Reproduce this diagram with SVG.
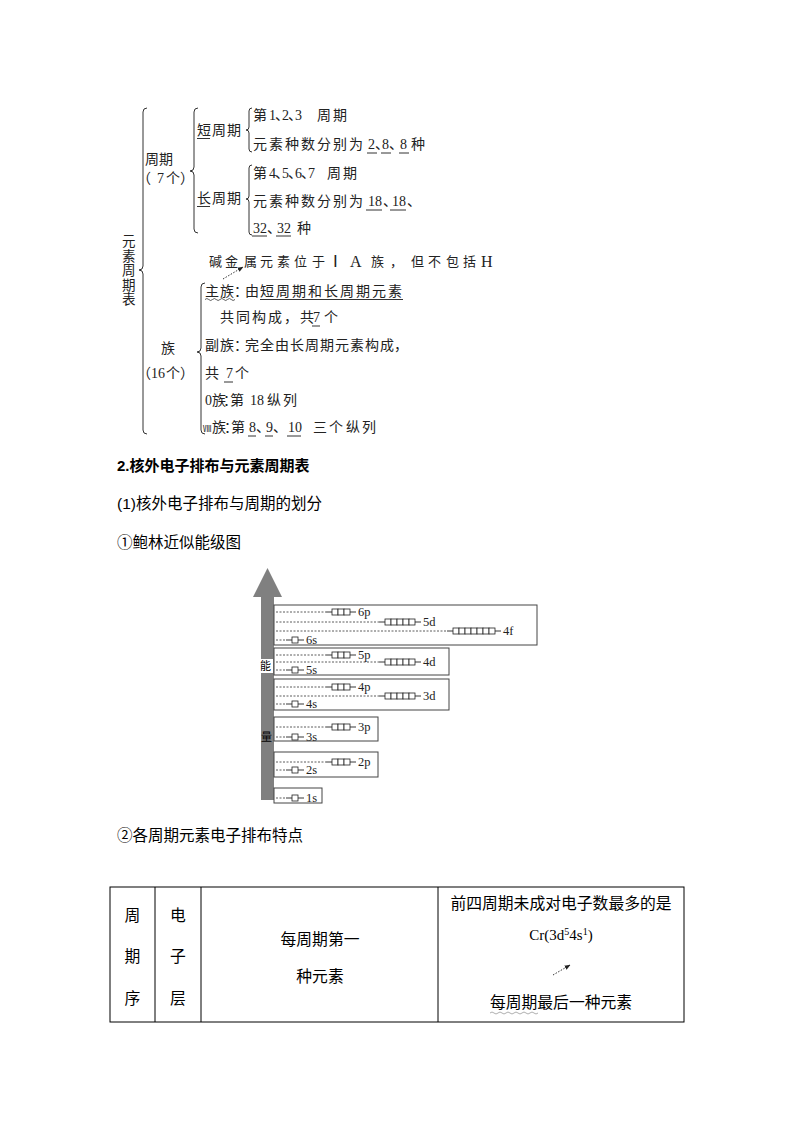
<svg xmlns="http://www.w3.org/2000/svg" width="794" height="1123" viewBox="0 0 794 1123">
<style>
.t{font-family:'Liberation Serif','Noto Sans CJK SC',serif;font-size:14px;fill:#222}
.v{font-family:'Liberation Serif','Noto Sans CJK SC',serif;font-size:13.5px;fill:#222}
.hw{font-family:'Noto Sans CJK SC',sans-serif;font-size:13px;fill:#222}
.hwl{font-family:'Liberation Serif',serif;font-size:16px;fill:#222}
.h{font-family:'Liberation Sans','Noto Sans CJK SC',sans-serif;font-size:15.5px;fill:#000}
.hb{font-family:'Liberation Sans','Noto Sans CJK SC',sans-serif;font-size:15px;fill:#000;font-weight:bold}
.tb{font-family:'Liberation Sans','Noto Sans CJK SC',sans-serif;font-size:15.8px;fill:#000}
.cr{font-family:'Liberation Serif',serif;font-size:15px;fill:#000}
.lbl{font-family:'Liberation Serif',serif;font-size:12.5px;fill:#222}
.ax{font-family:'Noto Sans CJK SC',sans-serif;font-size:11px;fill:#000}
.br{fill:none;stroke:#333;stroke-width:1}
.ul{stroke:#333;stroke-width:1}
.wv{fill:none;stroke:#333;stroke-width:0.8}
.dot{stroke:#333;stroke-width:0.8;stroke-dasharray:2 1.5}
.sl{stroke:#222;stroke-width:0.9}
.cell{fill:#fff;stroke:#222;stroke-width:0.8}
.box{fill:#fff;stroke:#444;stroke-width:1}
.tbl{fill:none;stroke:#000;stroke-width:1}
.da{fill:none;stroke:#333;stroke-width:1;stroke-dasharray:1.5 1.5}
</style>
<defs>
<marker id="ah" viewBox="0 0 10 10" refX="9" refY="5" markerWidth="6" markerHeight="6" orient="auto">
<path d="M0,1 L10,5 L0,9 z" fill="#222"/>
</marker>
</defs>

<!-- Part 1: periodic table outline -->
<g id="root-label">
<text class="v" x="122" y="246">元</text>
<text class="v" x="122" y="260.5">素</text>
<text class="v" x="122" y="275">周</text>
<text class="v" x="122" y="289.5">期</text>
<text class="v" x="122" y="304">表</text>
<path class="br" d="M147,108 Q143,108 143,112 L143,266 Q143,270 139,270 Q143,270 143,274 L143,430 Q143,434 147,434"/>
</g>

<g id="period">
<text class="t" x="145" y="164">周期</text>
<text class="t" x="137 157 163 166 180" y="183">（7 个）</text>
<path class="br" d="M198,108 Q194,108 194,112 L194,167 Q194,171 190,171 Q194,171 194,175 L194,229 Q194,233 198,233"/>
</g>

<g id="short-period">
<text class="t" x="197 212 227" y="135">短周期</text>
<line class="ul" x1="197" y1="138.5" x2="210" y2="138.5"/>
<path class="br" d="M252,108 Q249,108 249,111 L249,127 Q249,130 246,130 Q249,130 249,133 L249,149 Q249,152 252,152"/>
<text class="t" x="253 269 275 282 288 295 317 333" y="120">第1、2、3周期</text>
<text class="t" x="253 269 285 301 317 333 349 368 375 382 389 400 411" y="149">元素种数分别为2、8、8种</text>
<line class="ul" x1="367" y1="153" x2="377" y2="153"/>
<line class="ul" x1="381" y1="153" x2="391" y2="153"/>
<line class="ul" x1="399" y1="153" x2="409" y2="153"/>
</g>

<g id="long-period">
<text class="t" x="197 212 227" y="203">长周期</text>
<line class="ul" x1="197" y1="206.5" x2="210" y2="206.5"/>
<path class="br" d="M252,165 Q249,165 249,168 L249,196 Q249,199 246,199 Q249,199 249,202 L249,232 Q249,235 252,235"/>
<text class="t" x="253 269 275 282 288 295 301 308 327 343" y="178">第4、5、6、7周期</text>
<text class="t" x="253 269 285 301 317 333 349 368 375 383 392 399 407" y="206">元素种数分别为18、18、</text>
<line class="ul" x1="366" y1="210" x2="382" y2="210"/>
<line class="ul" x1="390" y1="210" x2="406" y2="210"/>
<text class="t" x="253 260 267 277 284 297" y="233">32、32种</text>
<line class="ul" x1="252" y1="236" x2="267" y2="236"/>
<line class="ul" x1="276" y1="236" x2="291" y2="236"/>
</g>

<g id="note">
<text class="hw" y="266"><tspan x="209 225 244 260 277 294 312">碱金属元素位于</tspan><tspan class="hwl" x="333" y="267">Ⅰ</tspan><tspan class="hwl" x="350" y="267">A</tspan><tspan x="371 390 411 428 446 463" y="266">族，但不包括</tspan><tspan class="hwl" x="481" y="267">H</tspan></text>
</g>

<g id="group">
<text class="t" x="161" y="353">族</text>
<text class="t" x="137 151 158 163 166 180" y="378">（16 个）</text>
<path class="br" d="M205,283 Q201,283 201,287 L201,348 Q201,352 197,352 Q201,352 201,356 L201,430 Q201,434 205,434"/>
</g>

<g id="main-group">
<text class="t" x="205 220 234 245 260 276 292 308 324 340 356 372 388" y="296">主族：由短周期和长周期元素</text>
<path class="wv" d="M205,299.5 q1.875,-2 3.75,0 t3.75,0 t3.75,0 t3.75,0 t3.75,0 t3.75,0 t3.75,0 t3.75,0"/>
<line class="ul" x1="260" y1="299.5" x2="403" y2="299.5"/>
<text class="t" x="220 236 252 268 284 300 313 324" y="322">共同构成，共7个</text>
<line class="ul" x1="312" y1="326" x2="320" y2="326"/>
</g>

<g id="sub-group">
<text class="t" x="205 220 234 245 260 275 290 305 320 335 350 365 380 394" y="350">副族：完全由长周期元素构成，</text>
<text class="t" x="205 226 235" y="378">共7个</text>
<line class="ul" x1="224" y1="382" x2="233" y2="382"/>
</g>

<g id="zero-group">
<text class="t" x="205 212 223 230 250 257 267 283" y="405">0族：第18纵列</text>
</g>

<g id="group-8">
<text class="t" y="432"><tspan x="203" font-size="8.5">Ⅷ</tspan><tspan x="212 224 231 249 256 266 273 288 295 313 329 346 362">族：第8、9、10三个纵列</tspan></text>
<line class="ul" x1="248" y1="436" x2="256" y2="436"/>
<line class="ul" x1="265" y1="436" x2="273" y2="436"/>
<line class="ul" x1="287" y1="436" x2="301" y2="436"/>
</g>

<g id="connectors">
<line class="da" x1="223" y1="279" x2="243" y2="267" marker-end="url(#ah)"/>
<line class="da" x1="553" y1="975" x2="570" y2="965" marker-end="url(#ah)"/>
</g>

<!-- Part 2 headings -->
<g id="headings">
<text class="hb" x="117" y="471">2.核外电子排布与元素周期表</text>
<text class="h" x="117" y="509">(1)核外电子排布与周期的划分</text>
<text class="h" x="117" y="548">①鲍林近似能级图</text>
<text class="h" x="117" y="841" font-size="16">②各周期元素电子排布特点</text>
</g>

<!-- Energy level diagram -->
<g id="energy-axis">
<rect x="261" y="596" width="13" height="204" fill="#808080"/>
<polygon points="253,597 282,597 267.5,568" fill="#808080"/>
<rect x="259" y="659" width="14" height="14" fill="#fff"/>
<text class="ax" x="260" y="670">能</text>
<text class="ax" x="261" y="741">量</text>
</g>

<g id="level-6">
<rect class="box" x="274" y="605" width="263" height="40"/>
<line class="dot" x1="276" y1="612" x2="326" y2="612"/><line class="sl" x1="326" y1="612" x2="356" y2="612"/>
<rect class="cell" x="332" y="609" width="6" height="6"/><rect class="cell" x="338" y="609" width="6" height="6"/><rect class="cell" x="344" y="609" width="6" height="6"/>
<text class="lbl" x="358" y="616">6p</text>
<line class="dot" x1="276" y1="622" x2="379" y2="622"/><line class="sl" x1="379" y1="622" x2="421" y2="622"/>
<rect class="cell" x="385" y="619" width="6" height="6"/><rect class="cell" x="391" y="619" width="6" height="6"/><rect class="cell" x="397" y="619" width="6" height="6"/><rect class="cell" x="403" y="619" width="6" height="6"/><rect class="cell" x="409" y="619" width="6" height="6"/>
<text class="lbl" x="423" y="626">5d</text>
<line class="dot" x1="276" y1="631" x2="447" y2="631"/><line class="sl" x1="447" y1="631" x2="501" y2="631"/>
<rect class="cell" x="453" y="628" width="6" height="6"/><rect class="cell" x="459" y="628" width="6" height="6"/><rect class="cell" x="465" y="628" width="6" height="6"/><rect class="cell" x="471" y="628" width="6" height="6"/><rect class="cell" x="477" y="628" width="6" height="6"/><rect class="cell" x="483" y="628" width="6" height="6"/><rect class="cell" x="489" y="628" width="6" height="6"/>
<text class="lbl" x="503" y="635">4f</text>
<line class="dot" x1="276" y1="640" x2="286" y2="640"/><line class="sl" x1="286" y1="640" x2="304" y2="640"/>
<rect class="cell" x="292" y="637" width="6" height="6"/>
<text class="lbl" x="306" y="644">6s</text>
</g>

<g id="level-5">
<rect class="box" x="274" y="648" width="175" height="27"/>
<line class="dot" x1="276" y1="655" x2="326" y2="655"/><line class="sl" x1="326" y1="655" x2="356" y2="655"/>
<rect class="cell" x="332" y="652" width="6" height="6"/><rect class="cell" x="338" y="652" width="6" height="6"/><rect class="cell" x="344" y="652" width="6" height="6"/>
<text class="lbl" x="358" y="659">5p</text>
<line class="dot" x1="276" y1="662" x2="379" y2="662"/><line class="sl" x1="379" y1="662" x2="421" y2="662"/>
<rect class="cell" x="385" y="659" width="6" height="6"/><rect class="cell" x="391" y="659" width="6" height="6"/><rect class="cell" x="397" y="659" width="6" height="6"/><rect class="cell" x="403" y="659" width="6" height="6"/><rect class="cell" x="409" y="659" width="6" height="6"/>
<text class="lbl" x="423" y="666">4d</text>
<line class="dot" x1="276" y1="670" x2="286" y2="670"/><line class="sl" x1="286" y1="670" x2="304" y2="670"/>
<rect class="cell" x="292" y="667" width="6" height="6"/>
<text class="lbl" x="306" y="674">5s</text>
</g>

<g id="level-4">
<rect class="box" x="274" y="679" width="175" height="31"/>
<line class="dot" x1="276" y1="687" x2="326" y2="687"/><line class="sl" x1="326" y1="687" x2="356" y2="687"/>
<rect class="cell" x="332" y="684" width="6" height="6"/><rect class="cell" x="338" y="684" width="6" height="6"/><rect class="cell" x="344" y="684" width="6" height="6"/>
<text class="lbl" x="358" y="691">4p</text>
<line class="dot" x1="276" y1="696" x2="379" y2="696"/><line class="sl" x1="379" y1="696" x2="421" y2="696"/>
<rect class="cell" x="385" y="693" width="6" height="6"/><rect class="cell" x="391" y="693" width="6" height="6"/><rect class="cell" x="397" y="693" width="6" height="6"/><rect class="cell" x="403" y="693" width="6" height="6"/><rect class="cell" x="409" y="693" width="6" height="6"/>
<text class="lbl" x="423" y="700">3d</text>
<line class="dot" x1="276" y1="704" x2="286" y2="704"/><line class="sl" x1="286" y1="704" x2="304" y2="704"/>
<rect class="cell" x="292" y="701" width="6" height="6"/>
<text class="lbl" x="306" y="708">4s</text>
</g>

<g id="level-3">
<rect class="box" x="274" y="717" width="104" height="24"/>
<line class="dot" x1="276" y1="727" x2="326" y2="727"/><line class="sl" x1="326" y1="727" x2="356" y2="727"/>
<rect class="cell" x="332" y="724" width="6" height="6"/><rect class="cell" x="338" y="724" width="6" height="6"/><rect class="cell" x="344" y="724" width="6" height="6"/>
<text class="lbl" x="358" y="731">3p</text>
<line class="dot" x1="276" y1="737" x2="286" y2="737"/><line class="sl" x1="286" y1="737" x2="304" y2="737"/>
<rect class="cell" x="292" y="734" width="6" height="6"/>
<text class="lbl" x="306" y="741">3s</text>
</g>

<g id="level-2">
<rect class="box" x="274" y="752" width="104" height="25"/>
<line class="dot" x1="276" y1="762" x2="326" y2="762"/><line class="sl" x1="326" y1="762" x2="356" y2="762"/>
<rect class="cell" x="332" y="759" width="6" height="6"/><rect class="cell" x="338" y="759" width="6" height="6"/><rect class="cell" x="344" y="759" width="6" height="6"/>
<text class="lbl" x="358" y="766">2p</text>
<line class="dot" x1="276" y1="770" x2="286" y2="770"/><line class="sl" x1="286" y1="770" x2="304" y2="770"/>
<rect class="cell" x="292" y="767" width="6" height="6"/>
<text class="lbl" x="306" y="774">2s</text>
</g>

<g id="level-1">
<rect class="box" x="274" y="788" width="48" height="15"/>
<line class="dot" x1="276" y1="798" x2="286" y2="798"/><line class="sl" x1="286" y1="798" x2="304" y2="798"/>
<rect class="cell" x="292" y="795" width="6" height="6"/>
<text class="lbl" x="306" y="802">1s</text>
</g>

<!-- Table -->
<g id="table">
<rect class="tbl" x="110" y="887" width="574" height="135"/>
<line class="tbl" x1="155" y1="887" x2="155" y2="1022"/>
<line class="tbl" x1="201" y1="887" x2="201" y2="1022"/>
<line class="tbl" x1="438" y1="887" x2="438" y2="1022"/>
</g>
<g id="col-period">
<text class="tb" x="132.5" y="921" text-anchor="middle">周</text>
<text class="tb" x="132.5" y="962" text-anchor="middle">期</text>
<text class="tb" x="132.5" y="1004" text-anchor="middle">序</text>
</g>
<g id="col-shell">
<text class="tb" x="178" y="921" text-anchor="middle">电</text>
<text class="tb" x="178" y="962" text-anchor="middle">子</text>
<text class="tb" x="178" y="1004" text-anchor="middle">层</text>
</g>
<g id="col-first">
<text class="tb" x="320" y="945" text-anchor="middle">每周期第一</text>
<text class="tb" x="320" y="982" text-anchor="middle">种元素</text>
</g>
<g id="col-last">
<text class="tb" x="561" y="909" text-anchor="middle">前四周期未成对电子数最多的是</text>
<text class="cr" x="561" y="940" text-anchor="middle">Cr(3d<tspan font-size="10" dy="-5">5</tspan><tspan dy="5">4s</tspan><tspan font-size="10" dy="-5">1</tspan><tspan dy="5">)</tspan></text>
<text class="tb" x="561" y="1008" text-anchor="middle">每周期最后一种元素</text>
<path d="M490,1013 q2,-2 4,0 t4,0 t4,0 t4,0 t4,0 t4,0 t4,0 t4,0 t4,0 t4,0 t4,0 t4,0" fill="none" stroke="#999" stroke-width="0.8"/>
</g>
</svg>
